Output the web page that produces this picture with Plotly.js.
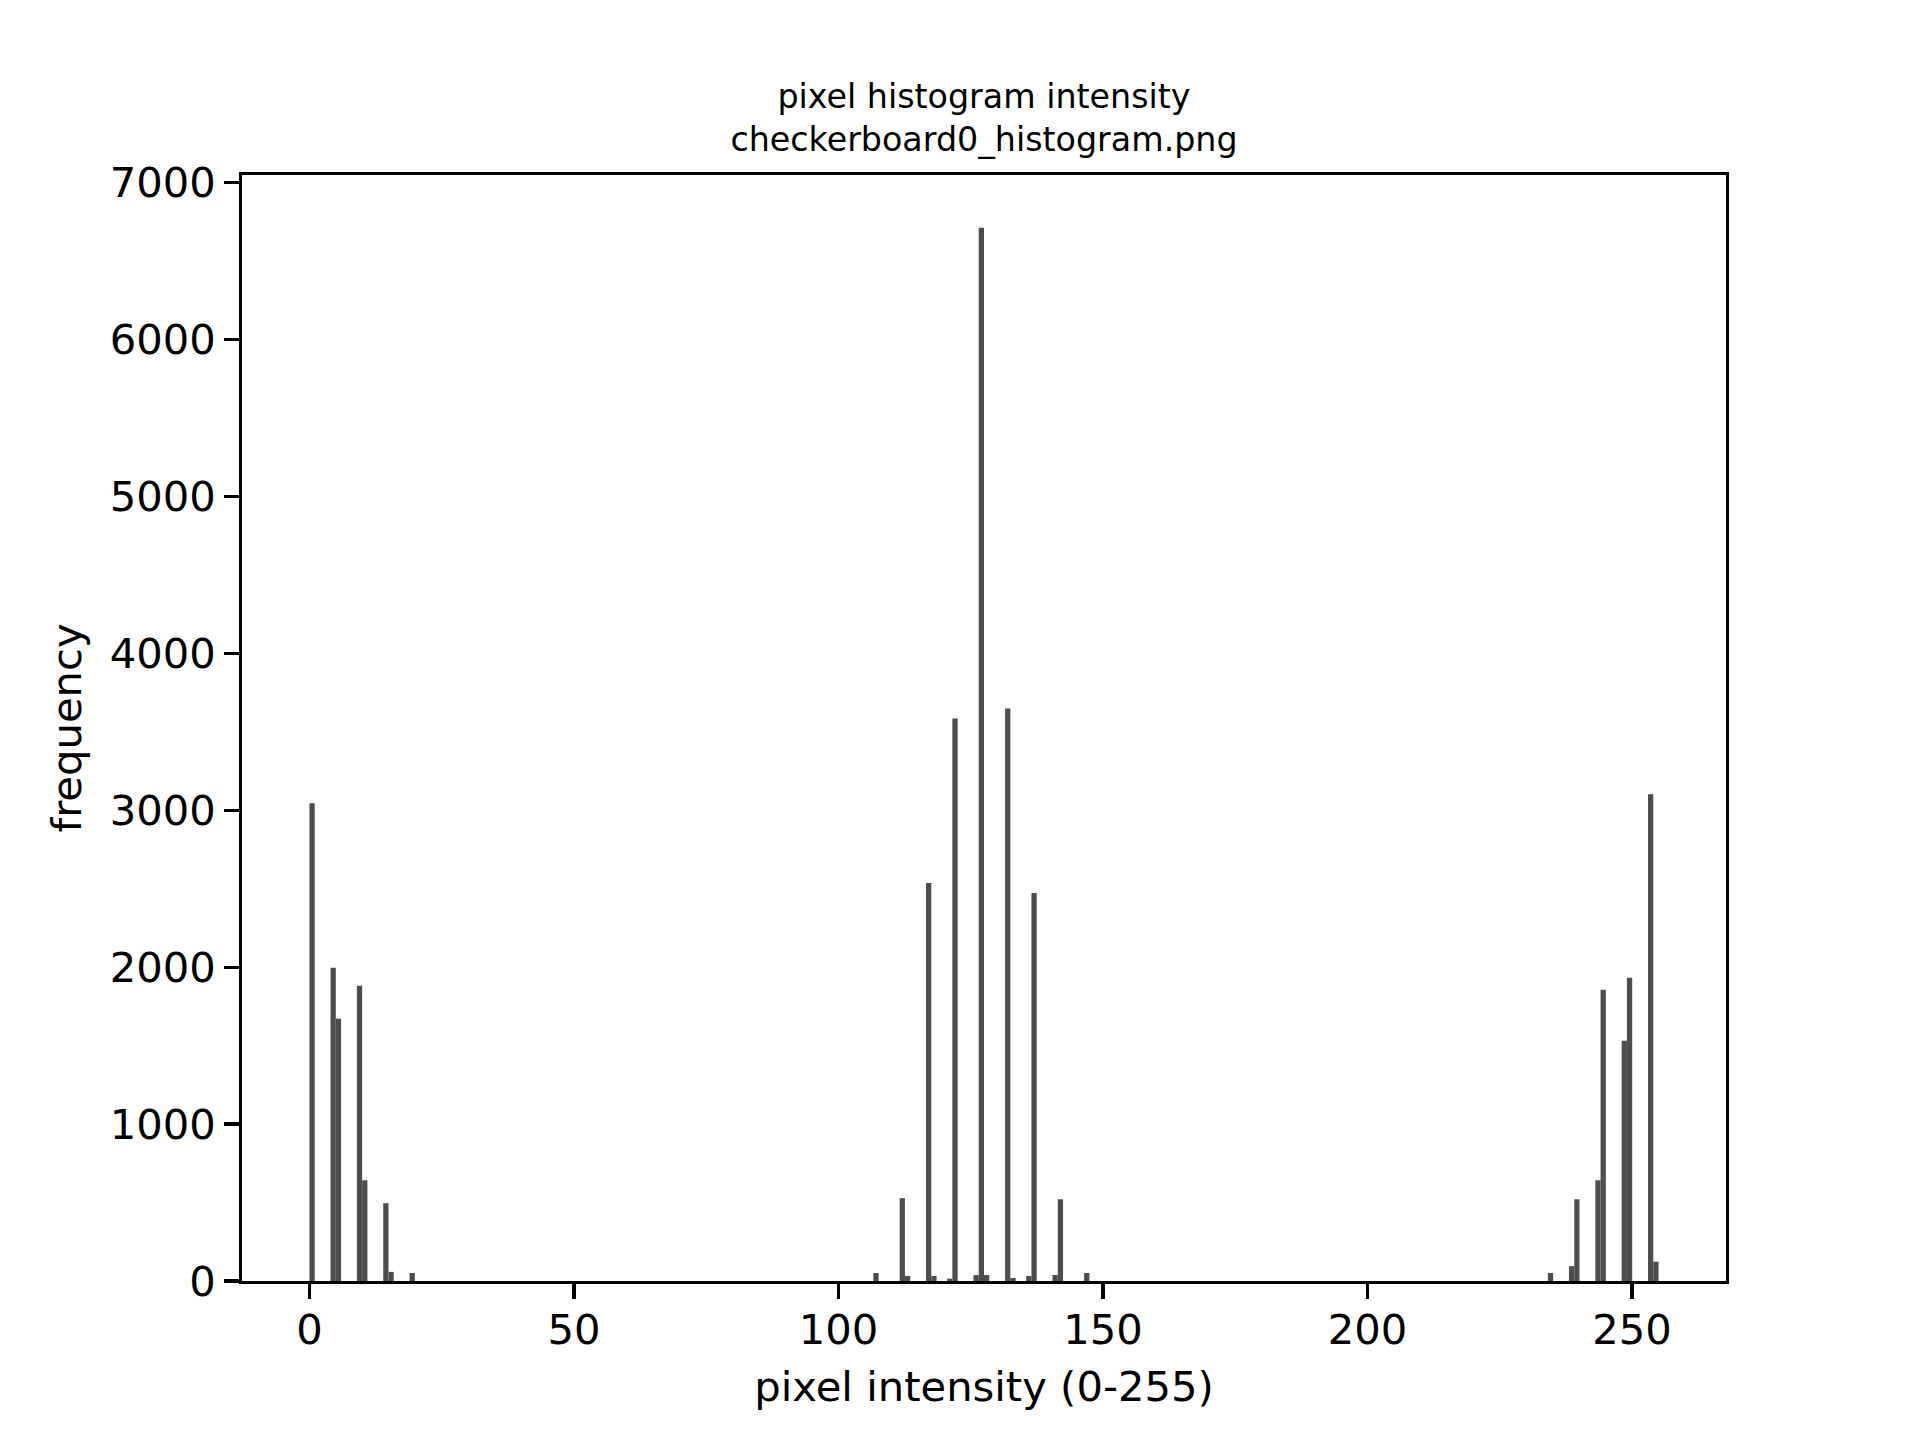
<!DOCTYPE html>
<html>
<head>
<meta charset="utf-8">
<script src="https://cdn.plot.ly/plotly-3.0.1.min.js"></script>
<style>html,body{margin:0;padding:0;background:#fff;}#chart{width:1920px;height:1440px;}</style>
</head>
<body>
<div id="chart"></div>
<script>
// Histogram data (256 bins over 0-255)
const intensities = [0, 4, 5, 9, 10, 14, 15, 19,
  107, 112, 113, 117, 118, 121, 122, 126, 127, 128, 132, 133, 136, 137, 141, 142, 147,
  235, 239, 240, 244, 245, 249, 250, 254, 255];
const frequencies = [3045, 1996, 1672, 1882, 642, 496, 58, 51,
  51, 528, 32, 2537, 32, 15, 3585, 38, 6714, 38, 3649, 19, 32, 2473, 38, 521, 51,
  51, 95, 521, 642, 1856, 1532, 1933, 3102, 123];
const xTickVals = [0, 50, 100, 150, 200, 250];
const yTickVals = [0, 1000, 2000, 3000, 4000, 5000, 6000, 7000];
const titleLines = ['pixel histogram intensity', 'checkerboard0_histogram.png'];
const xLabel = 'pixel intensity (0-255)';
const yLabel = 'frequency';

const nBins = 256, lo = 0, hi = 255;
const binW = (hi - lo) / nBins;
const centers = intensities.map(v => lo + (v + 0.5) * binW);

const font = 'DejaVu Sans, Liberation Sans, sans-serif';
const trace = {
  type: 'bar',
  x: centers,
  y: frequencies,
  width: intensities.map(() => binW),
  marker: {color: '#4d4d4d', line: {width: 0}},
  hoverinfo: 'x+y'
};
const axisCommon = {
  showline: true, mirror: true, linecolor: '#000', linewidth: 3.3,
  ticks: 'outside', ticklen: 14.6, tickwidth: 3.3, tickcolor: '#000',
  showgrid: false, zeroline: false,
  tickfont: {family: font, size: 41.7, color: '#000'}
};
const layout = {
  width: 1920, height: 1440,
  margin: {l: 241.6, r: 193.6, t: 174.5, b: 158.5, pad: 0},
  paper_bgcolor: '#fff', plot_bgcolor: '#fff',
  showlegend: false,
  font: {family: font, color: '#000'},
  title: {
    text: titleLines.join('<br>'),
    font: {family: font, size: 33.3, color: '#000'},
    x: 984 / 1920, xanchor: 'center', xref: 'container',
    y: 1 - 108 / 1440, yanchor: 'middle', yref: 'container'
  },
  xaxis: Object.assign({}, axisCommon, {
    range: [-12.75, 267.75],
    tickmode: 'array', tickvals: xTickVals,
    ticktext: xTickVals.map(String),
    ticklabelstandoff: -5,
    title: {text: xLabel, font: {family: font, size: 41.7, color: '#000'}, standoff: 20}
  }),
  yaxis: Object.assign({}, axisCommon, {
    range: [0, 7050],
    tickmode: 'array', tickvals: yTickVals,
    ticktext: yTickVals.map(String),
    title: {text: yLabel, font: {family: font, size: 41.7, color: '#000'}, standoff: 16}
  })
};
Plotly.newPlot('chart', [trace], layout, {staticPlot: true, displayModeBar: false});
</script>
</body>
</html>
